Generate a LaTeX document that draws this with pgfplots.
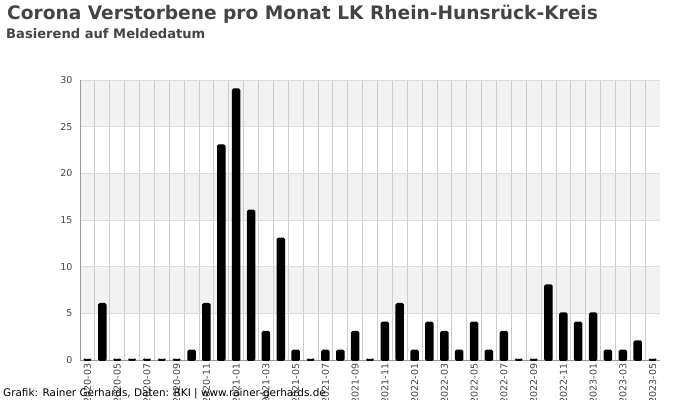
\documentclass[border=0pt]{standalone}
\usepackage{pgfplots}
\pgfplotsset{compat=1.18}
\usepackage{fontspec}
\setmainfont{DejaVu Sans}
\definecolor{titlegray}{HTML}{444444}
\definecolor{bandgray}{HTML}{F2F2F2}
\definecolor{hgrid}{HTML}{DDDDDD}
\definecolor{vgrid}{HTML}{CCCCCC}
\definecolor{axisgray}{HTML}{999999}

% deaths per month, 2020-03 .. 2023-05
\pgfplotstableread{
m v
0 0
1 6
2 0
3 0
4 0
5 0
6 0
7 1
8 6
9 23
10 29
11 16
12 3
13 13
14 1
15 0
16 1
17 1
18 3
19 0
20 4
21 6
22 1
23 4
24 3
25 1
26 4
27 1
28 3
29 0
30 0
31 8
32 5
33 4
34 5
35 1
36 1
37 2
38 0
}\deaths

\begin{document}
\begin{tikzpicture}
\begin{axis}[
  at={(80bp,40bp)}, anchor=south west,
  width=580bp, height=280bp, scale only axis,
  set layers, clip=false,
  xmin=-0.5, xmax=38.5, ymin=0, ymax=30,
  axis x line=bottom, axis y line=left,
  axis line style={axisgray, -},
  xtick={0,2,...,38},
  xticklabels={2020-03,2020-05,2020-07,2020-09,2020-11,2021-01,2021-03,2021-05,2021-07,2021-09,2021-11,2022-01,2022-03,2022-05,2022-07,2022-09,2022-11,2023-01,2023-03,2023-05},
  minor xtick={-0.5,0.5,...,37.5},
  xminorgrids, minor x grid style={vgrid, line width=0.8bp},
  ytick={0,5,...,30},
  ymajorgrids, y grid style={hgrid, line width=0.8bp},
  major tick length=0pt, minor tick length=0pt,
  /pgf/number format/assume math mode=true,
  tick label style={font=\fontsize{9.5bp}{11bp}\selectfont, text=titlegray},
  xticklabel style={rotate=90, anchor=east},
  yticklabel style={xshift=-4bp},
  ybar, bar width=6.5bp,
]
\begin{pgfonlayer}{axis background}
  \fill[bandgray] (axis cs:-0.5,25) rectangle (axis cs:38.5,30);
  \fill[bandgray] (axis cs:-0.5,15) rectangle (axis cs:38.5,20);
  \fill[bandgray] (axis cs:-0.5,5) rectangle (axis cs:38.5,10);
\end{pgfonlayer}
\addplot[fill=black, draw=black, line width=2bp, rounded corners=1bp] table[x=m, y=v] {\deaths};
\end{axis}
\node[anchor=base west, inner sep=0, text=titlegray,
  font=\bfseries\fontsize{18.6bp}{20bp}\selectfont] at (7bp,380.5bp)
  {Corona Verstorbene pro Monat LK Rhein-Hunsrück-Kreis};
\node[anchor=base west, inner sep=0, text=titlegray,
  font=\bfseries\fontsize{13.1bp}{15bp}\selectfont] at (6bp,361.5bp)
  {Basierend auf Meldedatum};
\node[anchor=base west, inner sep=0, font=\fontsize{10.45bp}{12bp}\selectfont] at (3bp,3.5bp)
  {Grafik: Rainer Gerhards, Daten: RKI | www.rainer-gerhards.de};
\pgfresetboundingbox
\path[use as bounding box] (0,0) rectangle (700bp,400bp);
\end{tikzpicture}
\end{document}
